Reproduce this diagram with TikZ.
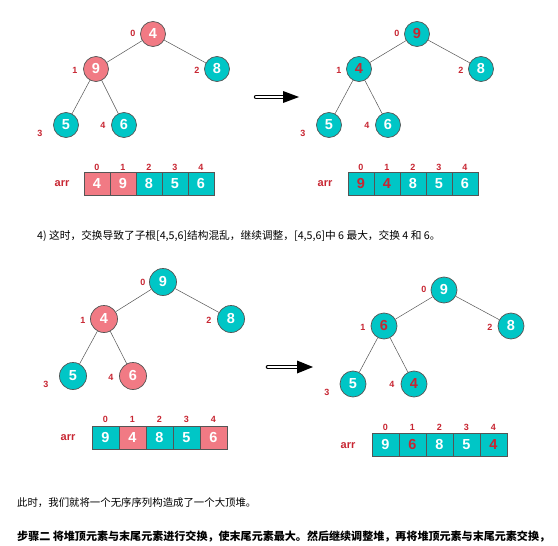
\documentclass[tikz,border=0pt]{standalone}
\usepackage{fontspec}
\newfontfamily\lsans{Liberation Sans}
\newfontfamily\cjk{Noto Sans CJK SC}
\definecolor{pinkc}{RGB}{241,122,132}
\definecolor{tealc}{RGB}{0,198,198}
\definecolor{redt}{RGB}{200,38,50}
\definecolor{edgec}{RGB}{85,85,85}
\tikzset{
  hn/.style={circle, draw=edgec, line width=0.7pt, inner sep=0pt, minimum size=#1,
             font=\lsans\bfseries\fontsize{14.5}{14.5}\selectfont, text=white},
  pn/.style={hn=#1, fill=pinkc},
  tn/.style={hn=#1, fill=tealc},
  tr/.style={hn=#1, fill=tealc, text=redt},
  idx/.style={font=\lsans\bfseries\fontsize{9}{9}\selectfont, text=redt, inner sep=0pt},
  arrl/.style={font=\lsans\bfseries\fontsize{11}{11}\selectfont, text=redt, inner sep=0pt},
  cell/.style={rectangle, draw=edgec, line width=0.6pt, inner sep=0pt, minimum width=#1, minimum height=23,
               font=\lsans\bfseries\fontsize{14.5}{14.5}\selectfont, text=white},
  pc/.style={cell=#1, fill=pinkc},
  tc/.style={cell=#1, fill=tealc},
  trc/.style={cell=#1, fill=tealc, text=redt},
  tedge/.style={draw=edgec, line width=0.5pt},
  txt/.style={anchor=west, inner sep=0pt, text=black},
}
\begin{document}
\begin{tikzpicture}[x=1pt,y=-1pt]
\useasboundingbox (0,0) rectangle (558,546);
\fill[white] (0,0) rectangle (558,546);

% ---------- Tree 1 ----------
\node[pn=25] (a0) at (153,34) {4};
\node[pn=25] (a1) at (96,69) {9};
\node[tn=25] (a2) at (217,69) {8};
\node[tn=25] (a3) at (66,125) {5};
\node[tn=25] (a4) at (124,125) {6};
\draw[tedge] (a0) -- (a1); \draw[tedge] (a0) -- (a2);
\draw[tedge] (a1) -- (a3); \draw[tedge] (a1) -- (a4);
\node[idx] (la0) at (133,33) {0};
\node[idx] (la1) at (75,70) {1};
\node[idx] (la2) at (197,70) {2};
\node[idx] (la3) at (40,133) {3};
\node[idx] (la4) at (103,125) {4};
\node[arrl] (arrA) at (62,184) {arr};
\foreach \i/\v/\s in {0/4/pc,1/9/pc,2/8/tc,3/5/tc,4/6/tc}{
  \node[\s=26] (ca\i) at (97+26*\i,183.5) {\v};
  \node[idx] (ia\i) at (97+26*\i,167) {\i};
}

% ---------- Arrow 1 ----------
\coordinate (ar1s) at (256,97);
\coordinate (ar1e) at (284,97);
\draw[line width=1.1pt, double=white, double distance=2.2pt, line cap=round] (ar1s) -- (ar1e);
\fill[black] (283,91) -- (299,97) -- (283,103) -- cycle;

% ---------- Tree 2 ----------
\node[tr=25] (b0) at (417,34) {9};
\node[tr=25] (b1) at (359,69) {4};
\node[tn=25] (b2) at (481,69) {8};
\node[tn=25] (b3) at (329,125) {5};
\node[tn=25] (b4) at (388,125) {6};
\draw[tedge] (b0) -- (b1); \draw[tedge] (b0) -- (b2);
\draw[tedge] (b1) -- (b3); \draw[tedge] (b1) -- (b4);
\node[idx] (lb0) at (397,33) {0};
\node[idx] (lb1) at (339,70) {1};
\node[idx] (lb2) at (461,70) {2};
\node[idx] (lb3) at (303,133) {3};
\node[idx] (lb4) at (367,125) {4};
\node[arrl] (arrB) at (325,184) {arr};
\foreach \i/\v/\s in {0/9/trc,1/4/trc,2/8/tc,3/5/tc,4/6/tc}{
  \node[\s=26] (cb\i) at (361+26*\i,183.5) {\v};
  \node[idx] (ib\i) at (361+26*\i,167) {\i};
}

% ---------- Text line 1 ----------
\node[txt, font=\cjk\fontsize{10.7}{10.7}\selectfont] (t1) at (37,236)
  {4)\ 这时，交换导致了子根[4,5,6]结构混乱，继续调整，[4,5,6]中 6 最大，交换 4 和 6。};

% ---------- Tree 3 ----------
\node[tn=27] (c0) at (163,282) {9};
\node[pn=27] (c1) at (104,319) {4};
\node[tn=27] (c2) at (231,319) {8};
\node[tn=27] (c3) at (73,376) {5};
\node[pn=27] (c4) at (133,376) {6};
\draw[tedge] (c0) -- (c1); \draw[tedge] (c0) -- (c2);
\draw[tedge] (c1) -- (c3); \draw[tedge] (c1) -- (c4);
\node[idx] (lc0) at (143,282) {0};
\node[idx] (lc1) at (83,320) {1};
\node[idx] (lc2) at (209,320) {2};
\node[idx] (lc3) at (46,384) {3};
\node[idx] (lc4) at (111,377) {4};
\node[arrl] (arrC) at (68,438) {arr};
\foreach \i/\v/\s in {0/9/tc,1/4/pc,2/8/tc,3/5/tc,4/6/pc}{
  \node[\s=27] (cc\i) at (105.5+27*\i,437.5) {\v};
  \node[idx] (ic\i) at (105.5+27*\i,419) {\i};
}

% ---------- Arrow 2 ----------
\coordinate (ar2s) at (268,367);
\coordinate (ar2e) at (298,367);
\draw[line width=1.1pt, double=white, double distance=2.4pt, line cap=round] (ar2s) -- (ar2e);
\fill[black] (297,360.5) -- (313,367) -- (297,373.5) -- cycle;

% ---------- Tree 4 ----------
\node[tn=26] (d0) at (444,290) {9};
\node[tr=26] (d1) at (384,326) {6};
\node[tn=26] (d2) at (511,326) {8};
\node[tn=26] (d3) at (353,384) {5};
\node[tr=26] (d4) at (414,384) {4};
\draw[tedge] (d0) -- (d1); \draw[tedge] (d0) -- (d2);
\draw[tedge] (d1) -- (d3); \draw[tedge] (d1) -- (d4);
\node[idx] (ld0) at (424,289) {0};
\node[idx] (ld1) at (363,327) {1};
\node[idx] (ld2) at (490,327) {2};
\node[idx] (ld3) at (327,392) {3};
\node[idx] (ld4) at (392,384) {4};
\node[arrl] (arrD) at (348,446) {arr};
\foreach \i/\v/\s in {0/9/tc,1/6/trc,2/8/tc,3/5/tc,4/4/trc}{
  \node[\s=27] (cd\i) at (385.5+27*\i,445) {\v};
  \node[idx] (id\i) at (385.5+27*\i,427) {\i};
}

% ---------- Text lines 2 and 3 ----------
\node[txt, font=\cjk\fontsize{10.4}{10.4}\selectfont] (t2) at (17,503)
  {此时，我们就将一个无序序列构造成了一个大顶堆。};
\node[txt, font=\cjk\bfseries\fontsize{11.05}{11.05}\selectfont] (t3) at (17,537)
  {步骤二\ 将堆顶元素与末尾元素进行交换，使末尾元素最大。然后继续调整堆，再将堆顶元素与末尾元素交换，};
\end{tikzpicture}
\end{document}
